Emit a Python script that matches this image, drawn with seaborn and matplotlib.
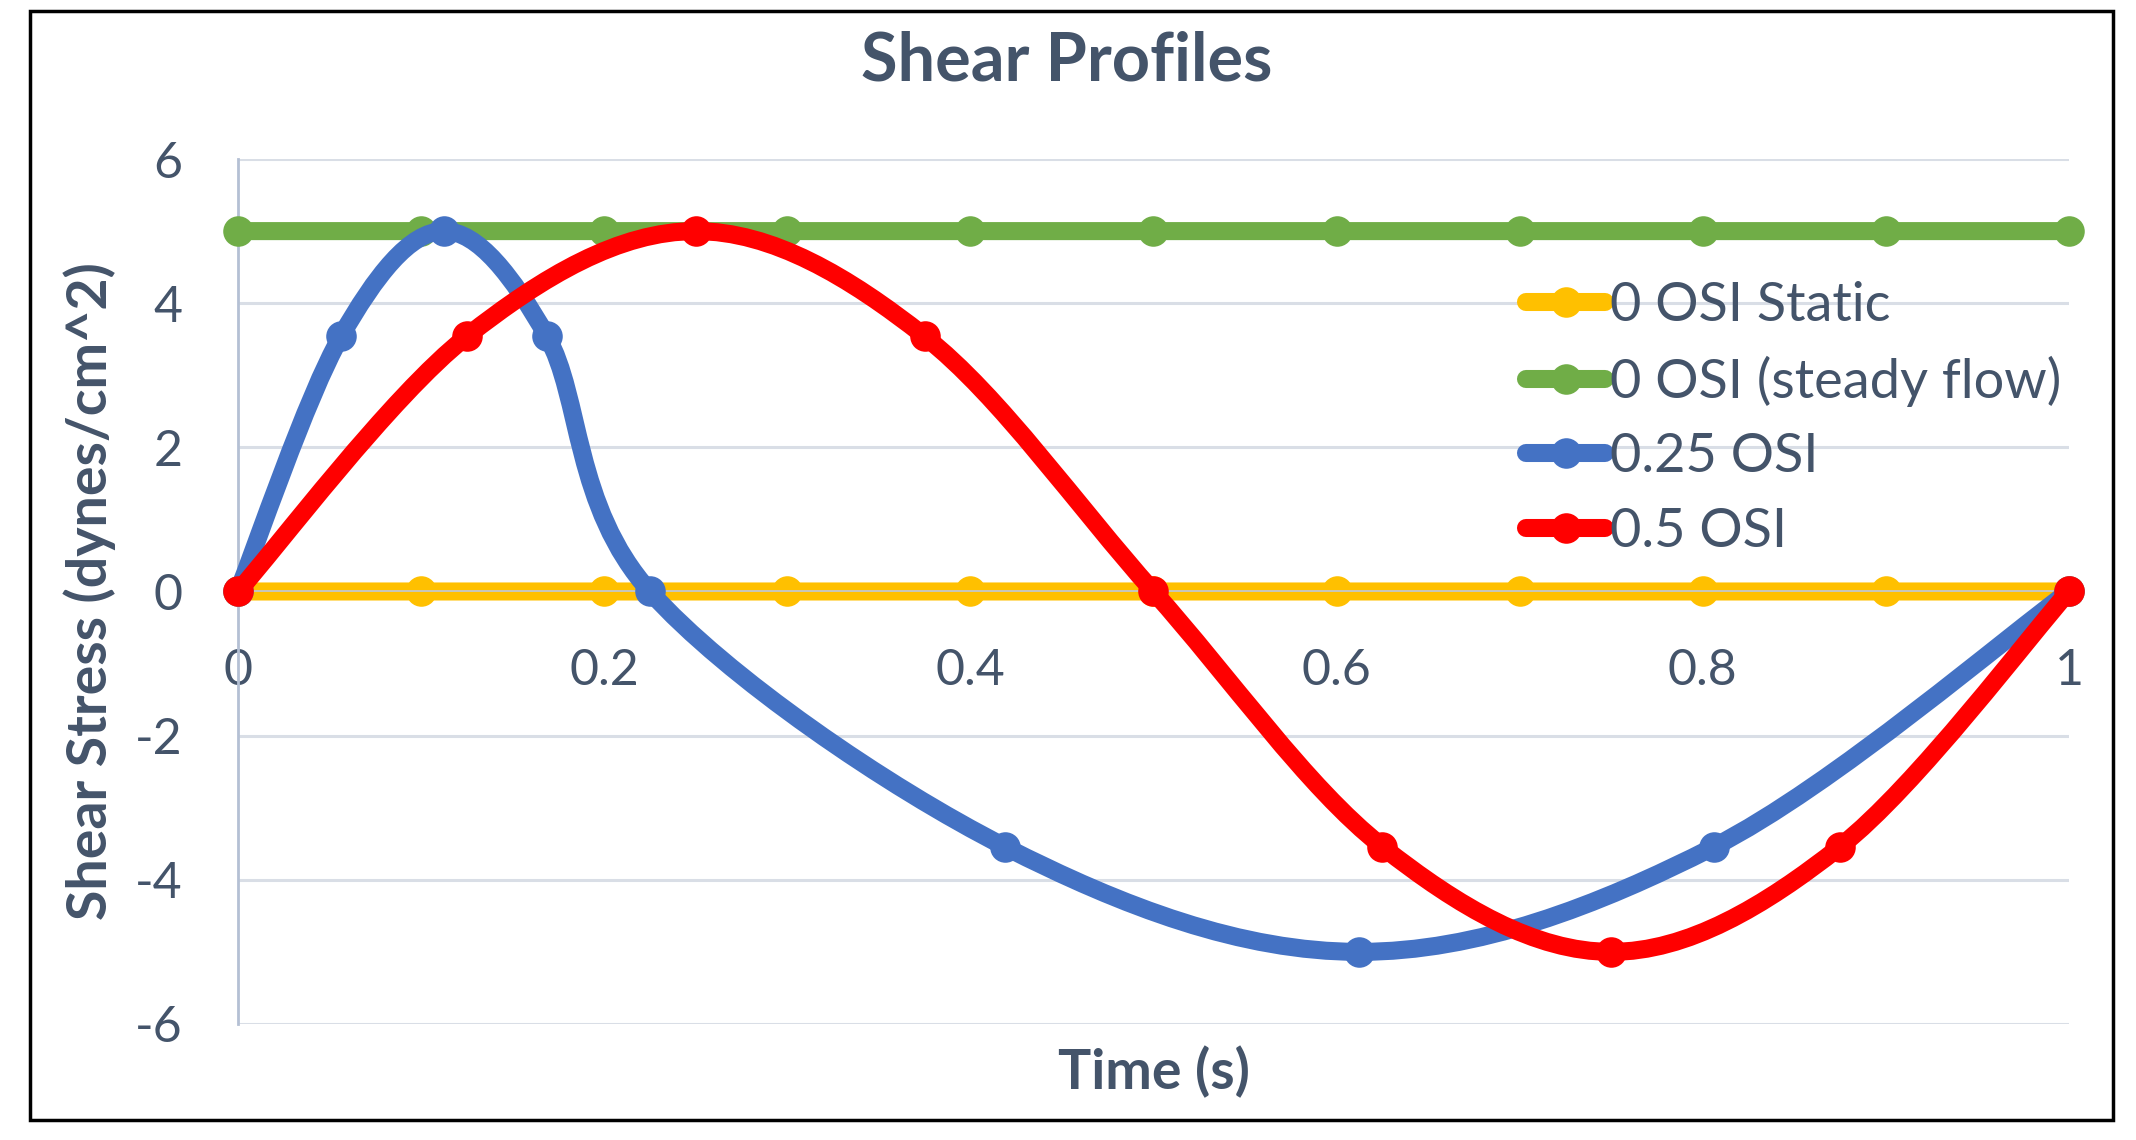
import numpy as np
import pandas as pd
import matplotlib
matplotlib.use("Agg")
import matplotlib.pyplot as plt
from matplotlib.path import Path
from matplotlib.patches import PathPatch, Rectangle
from matplotlib.lines import Line2D
import seaborn as sns

# data
time_flat = [0, 0.1, 0.2, 0.3, 0.4, 0.5, 0.6, 0.7, 0.8, 0.9, 1.0]
static_osi = [0, 0, 0, 0, 0, 0, 0, 0, 0, 0, 0]
steady_osi = [5, 5, 5, 5, 5, 5, 5, 5, 5, 5, 5]

time_025 = [0, 0.05625, 0.1125, 0.16875, 0.225, 0.41875, 0.6125, 0.80625, 1.0]
shear_025 = [0, 3.54, 5, 3.54, 0, -3.54, -5, -3.54, 0]

time_05 = [0, 0.125, 0.25, 0.375, 0.5, 0.625, 0.75, 0.875, 1.0]
shear_05 = [0, 3.54, 5, 3.54, 0, -3.54, -5, -3.54, 0]

labels = ["0 OSI Static", "0 OSI (steady flow)", "0.25 OSI", "0.5 OSI"]
colors = ["#FFC000", "#70AD47", "#4472C4", "#FF0000"]

text_color = "#44546A"
lw = 13
ms = 22

sns.set_theme(style="white")
plt.rcParams["font.family"] = ["Lato", "DejaVu Sans"]
plt.rcParams["axes.unicode_minus"] = False


def smooth_path(xs, ys):
    # Excel-style smoothed line: cubic bezier through each point (catmull-rom handles)
    p = np.column_stack([xs, ys]).astype(float)
    n = len(p)
    verts = [p[0]]
    codes = [Path.MOVETO]
    for i in range(n - 1):
        p_prev = p[i - 1] if i > 0 else p[i]
        p_next2 = p[i + 2] if i + 2 < n else p[i + 1]
        c1 = p[i] + (p[i + 1] - p_prev) / 6
        c2 = p[i + 1] - (p_next2 - p[i]) / 6
        verts += [c1, c2, p[i + 1]]
        codes += [Path.CURVE4] * 3
    return Path(verts, codes)


fig = plt.figure(figsize=(21.36, 11.4), dpi=100)
ax = fig.add_axes([0.1114, 0.1018, 0.8572, 0.7587])

# flat series
for xs, ys, c, z in [(time_flat, static_osi, colors[0], 2), (time_flat, steady_osi, colors[1], 3)]:
    df = pd.DataFrame({"t": xs, "s": ys})
    sns.lineplot(data=df, x="t", y="s", color=c, linewidth=lw, marker="o", markersize=ms,
                 markeredgewidth=0, ax=ax, zorder=z, clip_on=False)
for line in ax.lines:
    line.set_linewidth(lw)
    line.set_snap(False)
    line.set_solid_capstyle("round")

# oscillating series: smoothed curves + markers
for xs, ys, c, z in [(time_025, shear_025, colors[2], 4), (time_05, shear_05, colors[3], 5)]:
    ax.add_patch(PathPatch(smooth_path(xs, ys), facecolor="none", edgecolor=c, linewidth=lw,
                           capstyle="round", joinstyle="round", zorder=z, clip_on=False))
    df = pd.DataFrame({"t": xs, "s": ys})
    sns.scatterplot(data=df, x="t", y="s", color=c, s=ms ** 2, linewidth=0, ax=ax,
                    zorder=z + 0.1, clip_on=False)

ax.set_xlim(0, 1)
ax.set_ylim(-6, 6)
ax.set_xticks([0, 0.2, 0.4, 0.6, 0.8, 1.0])
ax.set_xticklabels(["0", "0.2", "0.4", "0.6", "0.8", "1"])
ax.set_yticks([-6, -4, -2, 0, 2, 4, 6])
ax.grid(axis="y", color="#D9DEE6", lw=2.2)
ax.grid(axis="x", visible=False)
ax.set_axisbelow(True)

for side in ["top", "right"]:
    ax.spines[side].set_visible(False)
ax.spines["bottom"].set_position(("data", 0))
ax.spines["bottom"].set_color("#BFC8D6")
ax.spines["left"].set_color("#B4C0D4")
ax.spines["left"].set_linewidth(2)

ax.tick_params(axis="x", length=0, pad=41, labelsize=36, labelcolor=text_color)
ax.tick_params(axis="y", length=0, pad=40, labelsize=36, labelcolor=text_color)

ax.set_xlabel("Time (s)", fontsize=40, fontweight="bold", color=text_color)
ax.xaxis.set_label_coords(0.5, -0.056)
ax.xaxis.label.set_va("center")
ax.set_ylabel("Shear Stress (dynes/cm^2)", fontsize=40, fontweight="bold", color=text_color)
ax.yaxis.set_label_coords(-0.081, 0.5)
ax.yaxis.label.set_va("center")

fig.text(0.4995, 0.946, "Shear Profiles", ha="center", va="center", fontsize=48,
         fontweight="bold", color=text_color)

handles = [Line2D([], [], color=c, lw=lw, marker="o", markersize=ms, markeredgewidth=0)
           for c in colors]
leg = ax.legend(handles, labels, loc="upper left", bbox_to_anchor=(0.7144, 0.7535),
                bbox_transform=fig.transFigure, frameon=False, fontsize=39,
                handlelength=1.46, handletextpad=0.1, labelspacing=0.47,
                borderpad=0, borderaxespad=0)
for t in leg.get_texts():
    t.set_color(text_color)

# border around the whole chart
fig.patches.append(Rectangle((30 / 2136, 1 - 1120 / 1140), 2083 / 2136, 1109 / 1140,
                             transform=fig.transFigure, fill=False, edgecolor="black",
                             lw=2.5, zorder=10))

fig.savefig("out.png", dpi=100, facecolor="white")
